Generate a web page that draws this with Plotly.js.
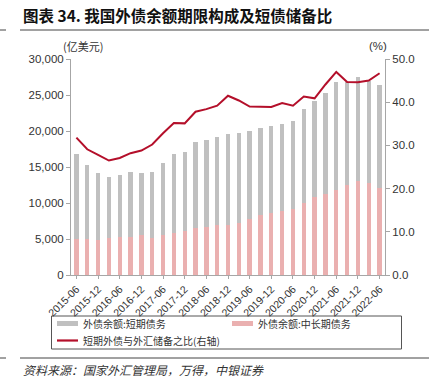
<!DOCTYPE html>
<html>
<head>
<meta charset="utf-8">
<script src="https://cdn.plot.ly/plotly-3.0.1.min.js"></script>
<style>html,body{margin:0;padding:0;background:#fff;}#chart{width:434px;height:383px;}</style>
</head>
<body>
<div id="chart"></div>
<script>
const quarters = ["2015-06","2015-09","2015-12","2016-03","2016-06","2016-09","2016-12","2017-03","2017-06","2017-09","2017-12","2018-03","2018-06","2018-09","2018-12","2019-03","2019-06","2019-09","2019-12","2020-03","2020-06","2020-09","2020-12","2021-03","2021-06","2021-09","2021-12","2022-03","2022-06"];
const tickLabels = ["2015-06","2015-12","2016-06","2016-12","2017-06","2017-12","2018-06","2018-12","2019-06","2019-12","2020-06","2020-12","2021-06","2021-12","2022-06"];
const shortTermDebt = [11790,10260,9290,8460,8650,8970,8640,9190,10030,11000,10950,11970,12070,12150,12660,12430,12250,12120,12020,12120,12250,13050,13230,14050,15120,14260,14500,14130,14320];
const longTermDebt = [5050,5050,4910,5190,5230,5330,5560,5140,5560,5840,6120,6530,6710,7000,6950,7270,7780,8280,8610,8840,9160,10000,10870,11290,11750,12540,13000,12770,12080];
const shortDebtReserveRatio = [31.8,29.1,27.8,26.5,27.1,28.2,28.8,30.2,32.8,35.2,35.1,37.8,38.4,39.2,41.5,40.4,39.0,39.0,38.9,39.8,39.2,41.3,40.9,44.1,47.0,44.7,44.6,45.0,46.7];
const seriesNames = ['外债余额:短期债务','外债余额:中长期债务','短期外债与外汇储备之比(右轴)'];

const numFont = "Liberation Sans Narrow, Liberation Sans, Arial, sans-serif";
const cjkFont = "Noto Sans CJK SC, sans-serif";
const colShort = '#c0c0c0', colLong = '#eab0b0', colLine = '#b40f2a';

// plot area in pixels
const L = 71, T = 59, W = 314, H = 216;
const px = (p) => (p - L) / W;
const py = (p) => 1 - (p - T) / H;

const traces = [
  {type:'bar', name:seriesNames[1], x:quarters, y:longTermDebt, marker:{color:colLong}, showlegend:false},
  {type:'bar', name:seriesNames[0], x:quarters, y:shortTermDebt, marker:{color:colShort}, showlegend:false},
  {type:'scatter', mode:'lines', name:seriesNames[2], x:quarters, y:shortDebtReserveRatio, yaxis:'y2', line:{color:colLine, width:2}, showlegend:false}
];

const hline = (x0, x1, y, color, width) => ({type:'line', xref:'paper', yref:'paper', x0:px(x0), x1:px(x1), y0:py(y), y1:py(y), line:{color:color||'#444', width:width||1}});
const rect = (x0, x1, y0, y1, fill, lineColor) => ({type:'rect', xref:'paper', yref:'paper', x0:px(x0), x1:px(x1), y0:py(y0), y1:py(y1),
  fillcolor:fill, line:{color:lineColor||fill, width:lineColor?1:0}});
const legText = (t, x, y) => ({text:t, xref:'paper', yref:'paper', x:px(x), y:py(y), xanchor:'left', yanchor:'middle', showarrow:false, font:{family:cjkFont, size:10, color:'#333'}});

const layout = {
  width:434, height:383,
  margin:{l:L, r:434-L-W, t:T, b:383-T-H, autoexpand:false},
  paper_bgcolor:'#fff', plot_bgcolor:'#fff',
  barmode:'stack', bargap:0.6,
  showlegend:false,
  xaxis:{type:'category', tickmode:'array', tickvals:tickLabels, ticktext:tickLabels, tickangle:-45,
    tickfont:{family:numFont, size:10.5, color:'#333'}, showline:true, linecolor:'#a6a6a6', linewidth:1,
    ticks:'outside', ticklen:3, tickcolor:'#a6a6a6', showgrid:false, zeroline:false},
  yaxis:{range:[0,30000], dtick:5000, tickformat:',d', showline:true, linecolor:'#a6a6a6', ticks:'outside', ticklen:4,
    tickcolor:'#a6a6a6', showgrid:false, zeroline:false, tickfont:{family:numFont, size:11.5, color:'#333'}},
  yaxis2:{range:[0,50], dtick:10, tickformat:'.1f', overlaying:'y', side:'right', showline:true, linecolor:'#a6a6a6',
    ticks:'outside', ticklen:4, tickcolor:'#a6a6a6', showgrid:false, zeroline:false, tickfont:{family:numFont, size:11.5, color:'#333'}},
  shapes:[
    hline(20,429,30), hline(0,6,30), hline(20,429,358), hline(0,6,358),
    rect(51.5, 401.5, 316, 349, 'rgba(0,0,0,0)', '#555'),
    rect(57, 78, 321, 326, colShort),
    rect(232, 253, 321, 326, colLong),
    hline(57, 78, 340.5, colLine, 2.2)
  ],
  annotations:[
    {text:'<b>图表 34. 我国外债余额期限构成及短债储备比</b>', xref:'paper', yref:'paper', x:px(21), y:py(15), xanchor:'left', yanchor:'middle', showarrow:false, font:{family:cjkFont, size:15.5, color:'#111'}},
    {text:'(亿美元)', xref:'paper', yref:'paper', x:px(61), y:py(46), xanchor:'left', yanchor:'middle', showarrow:false, font:{family:cjkFont, size:11, color:'#333'}},
    {text:'(%)', xref:'paper', yref:'paper', x:px(389), y:py(46), xanchor:'right', yanchor:'middle', showarrow:false, font:{family:numFont, size:11.5, color:'#333'}},
    {text:'<i>资料来源：国家外汇管理局，万得，中银证券</i>', xref:'paper', yref:'paper', x:px(21), y:py(369), xanchor:'left', yanchor:'middle', showarrow:false, font:{family:cjkFont, size:12, color:'#333'}},
    legText(seriesNames[0], 81, 323.5),
    legText(seriesNames[1], 256, 323.5),
    legText(seriesNames[2], 81, 340.5)
  ]
};

Plotly.newPlot('chart', traces, layout, {displayModeBar:false, staticPlot:true});
</script>
</body>
</html>
